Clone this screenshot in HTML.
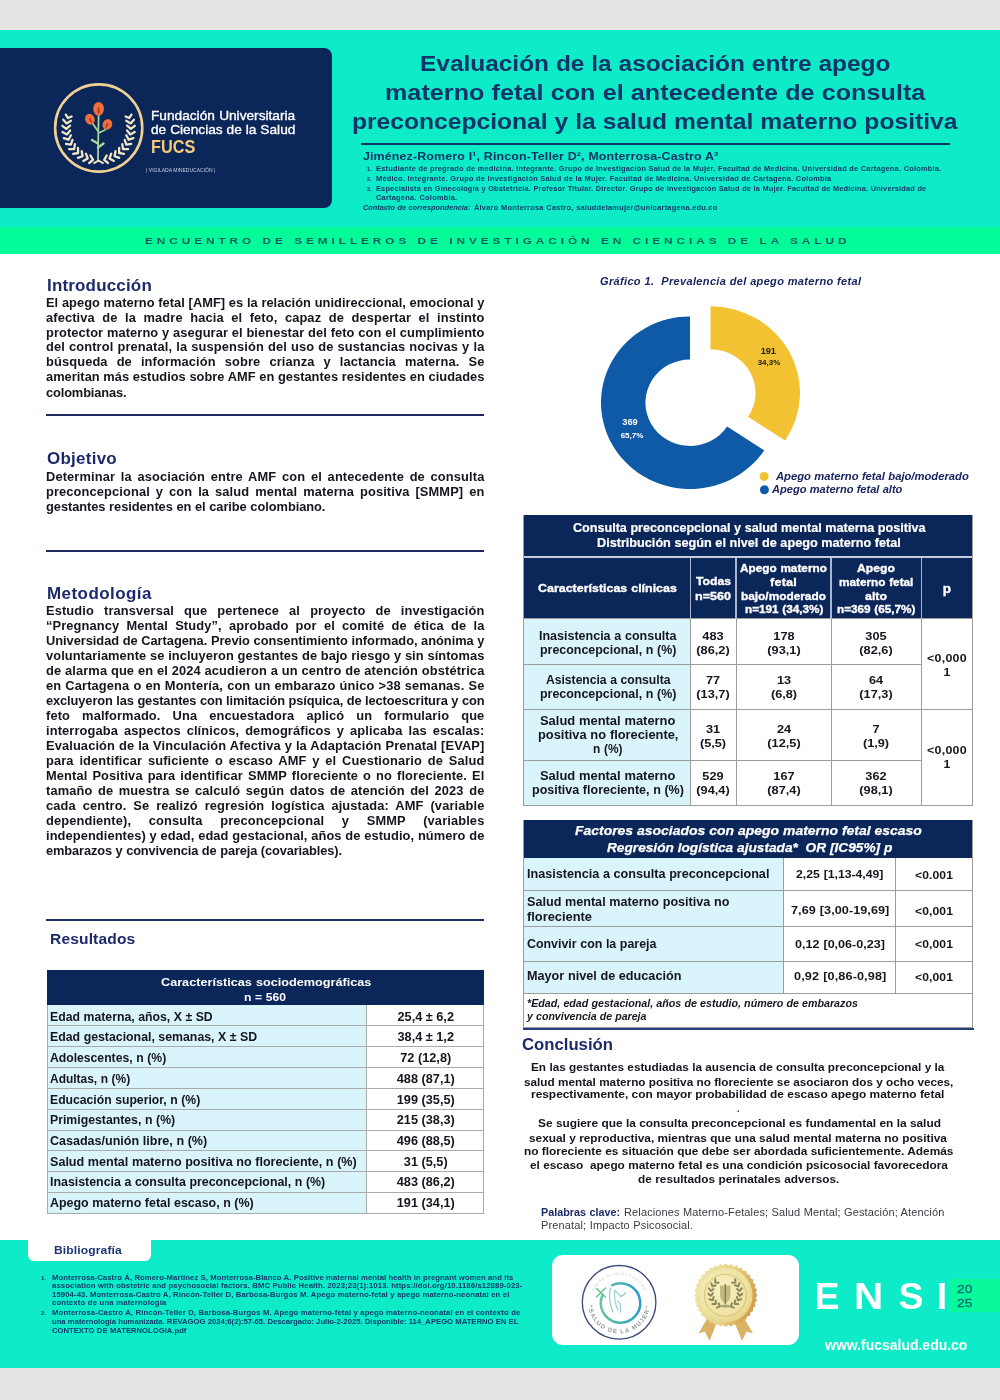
<!DOCTYPE html>
<html lang="es"><head><meta charset="utf-8"><title>Poster ENSI 2025</title>
<style>
html,body{margin:0;padding:0;}
body{width:1000px;height:1400px;position:relative;overflow:hidden;background:#e4e4e4;font-family:"Liberation Sans",sans-serif;}
.r{position:absolute;}
.t{position:absolute;white-space:nowrap;font-weight:bold;color:#15151f;}
.b{letter-spacing:0.45px;}
svg{position:absolute;overflow:visible;}
svg text{font-family:"Liberation Sans",sans-serif;}
</style></head>
<body>
<div class="r" style="left:0px;top:0px;width:1000px;height:1400px;background:#e4e4e4;"></div>
<div class="r" style="left:0px;top:30px;width:1000px;height:1338px;background:#ffffff;"></div>
<div class="r" style="left:0px;top:30px;width:1000px;height:197px;background:#0eebc9;"></div>
<div class="r" style="left:0px;top:227px;width:1000px;height:27px;background:#03fb99;"></div>
<div class="r" style="left:0px;top:1240px;width:1000px;height:128px;background:#0eebc9;"></div>
<div class="r" style="left:-10px;top:48px;width:342px;height:160px;background:#0b2658;border-radius:8px;"></div>
<svg style="left:0;top:0" width="340" height="220" viewBox="0 0 340 220">
<circle cx="98.7" cy="128" r="43.6" fill="none" stroke="#f1d193" stroke-width="2.6"/>
<g stroke="#a9d99a" stroke-width="1.7" fill="none" stroke-linecap="round">
<path d="M98.6 114 L98 160"/><path d="M97.5 130.500 L93 124"/><path d="M98.5 133 L105 130"/>
<path d="M97.8 143.500 L92 140" stroke-width="2.4"/><path d="M98 147.500 L103.500 143.500" stroke-width="2.4"/>
</g>
<g fill="#ef6d3e">
<ellipse cx="98.6" cy="108.8" rx="5.4" ry="6.9"/>
<ellipse cx="89.9" cy="119.2" rx="4.7" ry="5.5" transform="rotate(-20 89.9 119.2)"/>
<ellipse cx="107.4" cy="124.4" rx="4.7" ry="5.5" transform="rotate(25 107.4 124.4)"/>
</g>
<g fill="#8e2f1c" opacity="0.75"><ellipse cx="98.6" cy="110.5" rx="1" ry="3.6"/><ellipse cx="90.5" cy="120.3" rx="0.9" ry="2.8" transform="rotate(-20 90.5 120.3)"/><ellipse cx="106.8" cy="125.4" rx="0.9" ry="2.8" transform="rotate(25 106.8 125.4)"/></g>
<path d="M93.0 159.8L89.2 163.0M93.0 159.8L90.5 155.5M87.7 158.4L83.3 160.9M87.7 158.4L85.9 153.7M82.6 156.1L78.0 157.8M82.6 156.1L81.7 151.2M78.1 153.0L73.2 153.9M78.1 153.0L78.0 148.0M74.1 149.1L69.1 149.2M74.1 149.1L74.9 144.2M70.9 144.6L66.0 143.9M70.9 144.6L72.5 139.9M68.5 139.7L63.8 138.1M68.5 139.7L70.9 135.3M66.9 134.4L62.5 132.0M66.9 134.4L70.1 130.5M66.3 128.9L62.4 125.8M66.3 128.9L70.1 125.6M66.6 123.4L63.3 119.7M66.6 123.4L70.9 120.8M67.9 118.0L65.8 114.6M67.9 118.0L71.6 116.5M104.2 159.8L108.0 163.0M104.2 159.8L106.7 155.5M109.5 158.4L113.9 160.9M109.5 158.4L111.3 153.7M114.6 156.1L119.2 157.8M114.6 156.1L115.5 151.2M119.1 153.0L124.0 153.9M119.1 153.0L119.2 148.0M123.1 149.1L128.1 149.2M123.1 149.1L122.3 144.2M126.3 144.6L131.2 143.9M126.3 144.6L124.7 139.9M128.7 139.7L133.4 138.1M128.7 139.7L126.3 135.3M130.3 134.4L134.7 132.0M130.3 134.4L127.1 130.5M130.9 128.9L134.8 125.8M130.9 128.9L127.1 125.6M130.6 123.4L133.9 119.7M130.6 123.4L126.3 120.8M129.3 118.0L131.4 114.6M129.3 118.0L125.6 116.5" stroke="#f1e6c6" stroke-width="2.3" fill="none" stroke-linecap="round"/>
<path d="M98.5 160.500 l-4.500 2.600 M98.500 160.500 l4.500 2.600" stroke="#f1e6c6" stroke-width="1.8" stroke-linecap="round"/>
</svg>
<div class="t " style="left:150.6px;top:108.22px;font-size:13.5px;line-height:16.2px;transform:scaleX(1.0133);transform-origin:0 0;width:142.21px;text-align:justify;text-align-last:justify;letter-spacing:-0.005px;color:#ffffff;font-weight:normal;-webkit-text-stroke:0.35px #fff;">Fundación Universitaria</div>
<div class="t " style="left:150.6px;top:122.22px;font-size:13.5px;line-height:16.2px;transform:scaleX(1.0152);transform-origin:0 0;width:142.24px;text-align:justify;text-align-last:justify;letter-spacing:-0.005px;color:#ffffff;font-weight:normal;-webkit-text-stroke:0.35px #fff;">de Ciencias de la Salud</div>
<div class="t " style="left:151px;top:136.64px;font-size:17.5px;line-height:21.0px;transform:scaleX(0.9299);transform-origin:0 0;width:48.07px;text-align:justify;text-align-last:justify;letter-spacing:-0.005px;color:#f6c978;font-weight:bold;">FUCS</div>
<div class="t " style="left:146px;top:167.07px;font-size:5px;line-height:6.0px;transform:scaleX(1.004);transform-origin:0 0;width:69.12px;text-align:justify;text-align-last:justify;letter-spacing:-0.005px;color:#c9d2e6;font-weight:normal;">| VIGILADA MINEDUCACIÓN |</div>
<div class="t " style="left:419.5px;top:50.42px;font-size:22.8px;line-height:27.36px;transform:scaleX(1.072);transform-origin:0 0;width:438.81px;text-align:justify;text-align-last:justify;letter-spacing:-0.005px;color:#0e3468;font-weight:bold;">Evaluación de la asociación entre apego</div>
<div class="t " style="left:384.5px;top:79.22px;font-size:22.8px;line-height:27.36px;transform:scaleX(1.1);transform-origin:0 0;width:491.27px;text-align:justify;text-align-last:justify;letter-spacing:0.065px;color:#0e3468;font-weight:bold;">materno fetal con el antecedente de consulta</div>
<div class="t " style="left:352.0px;top:108.02px;font-size:22.8px;line-height:27.36px;transform:scaleX(1.0803);transform-origin:0 0;width:560.4px;text-align:justify;text-align-last:justify;letter-spacing:-0.005px;color:#0e3468;font-weight:bold;">preconcepcional y la salud mental materno positiva</div>
<div class="r" style="left:361px;top:143.4px;width:589px;height:1.6px;background:#0e3468;"></div>
<div class="t " style="left:363px;top:150.20px;font-size:11.3px;line-height:13.56px;transform:scaleX(1.1);transform-origin:0 0;width:323.09px;text-align:justify;text-align-last:justify;letter-spacing:0.116px;color:#0d3360;font-weight:bold;">Jiménez-Romero I¹, Rincon-Teller D², Monterrosa-Castro A³</div>
<div class="t " style="left:367px;top:165.79px;font-size:5.5px;line-height:6.6px;color:#0d3a66;">1.</div>
<div class="t " style="left:376px;top:164.66px;font-size:6.7px;line-height:8.04px;transform:scaleX(1.1);transform-origin:0 0;width:514.0px;text-align:justify;text-align-last:justify;letter-spacing:0.222px;color:#0d3a66;font-weight:bold;">Estudiante de pregrado de medicina. Integrante. Grupo de Investigación Salud de la Mujer. Facultad de Medicina. Universidad de Cartagena. Colombia.</div>
<div class="t " style="left:367px;top:175.79px;font-size:5.5px;line-height:6.6px;color:#0d3a66;">2.</div>
<div class="t " style="left:376px;top:174.66px;font-size:6.7px;line-height:8.04px;transform:scaleX(1.1);transform-origin:0 0;width:414.0px;text-align:justify;text-align-last:justify;letter-spacing:0.229px;color:#0d3a66;font-weight:bold;">Médico. Integrante. Grupo de Investigación Salud de la Mujer. Facultad de Medicina. Universidad de Cartagena. Colombia</div>
<div class="t " style="left:367px;top:185.89px;font-size:5.5px;line-height:6.6px;color:#0d3a66;">3.</div>
<div class="t " style="left:376px;top:184.76px;font-size:6.7px;line-height:8.04px;transform:scaleX(1.1);transform-origin:0 0;width:500.36px;text-align:justify;text-align-last:justify;letter-spacing:0.188px;color:#0d3a66;font-weight:bold;">Especialista en Ginecología y Obstetricia. Profesor Titular. Director. Grupo de Investigación Salud de la Mujer. Facultad de Medicina. Universidad de</div>
<div class="t " style="left:376px;top:193.66px;font-size:6.7px;line-height:8.04px;transform:scaleX(1.1);transform-origin:0 0;width:74.0px;text-align:justify;text-align-last:justify;letter-spacing:0.233px;color:#0d3a66;font-weight:bold;">Cartagena. Colombia.</div>
<div class="t " style="left:363px;top:203.66px;font-size:6.7px;line-height:8.04px;transform:scaleX(1.1);transform-origin:0 0;width:97.64px;text-align:justify;text-align-last:justify;letter-spacing:0.012px;color:#0d3a66;font-weight:bold;font-style:italic;">Contacto de correspondencia:</div>
<div class="t " style="left:474px;top:203.66px;font-size:6.7px;line-height:8.04px;transform:scaleX(1.1);transform-origin:0 0;width:221.27px;text-align:justify;text-align-last:justify;letter-spacing:0.229px;color:#0d3a66;font-weight:bold;">Álvaro Monterrosa Castro, saluddelamujer@unicartagena.edu.co</div>
<div class="t " style="left:145px;top:236.29px;font-size:9.2px;line-height:11.04px;transform:scaleX(1.28);transform-origin:0 0;width:551.09px;text-align:justify;text-align-last:justify;letter-spacing:3.095px;color:#0a5f5c;font-weight:bold;">ENCUENTRO DE SEMILLEROS DE INVESTIGACIÓN EN CIENCIAS DE LA SALUD</div>
<div class="t " style="left:46.6px;top:275.86px;font-size:16px;line-height:19.2px;transform:scaleX(1.06);transform-origin:0 0;width:99.43px;text-align:justify;text-align-last:justify;letter-spacing:0.176px;color:#1c2a6c;font-weight:bold;">Introducción</div>
<div class="t " style="left:46.1px;top:296.14px;font-size:12px;line-height:14.4px;transform:scaleX(1.07);transform-origin:0 0;width:409.72px;text-align:justify;text-align-last:justify;letter-spacing:0.041px;color:#15151f;font-weight:bold;">El apego materno fetal [AMF] es la relación unidireccional, emocional y</div>
<div class="t " style="left:46.1px;top:311.04px;font-size:12px;line-height:14.4px;transform:scaleX(1.07);transform-origin:0 0;width:409.72px;text-align:justify;text-align-last:justify;letter-spacing:0.115px;color:#15151f;font-weight:bold;">afectiva de la madre hacia el feto, capaz de despertar el instinto</div>
<div class="t " style="left:46.1px;top:325.74px;font-size:12px;line-height:14.4px;transform:scaleX(1.07);transform-origin:0 0;width:409.72px;text-align:justify;text-align-last:justify;letter-spacing:0.089px;color:#15151f;font-weight:bold;">protector materno y asegurar el bienestar del feto con el cumplimiento</div>
<div class="t " style="left:46.1px;top:340.44px;font-size:12px;line-height:14.4px;transform:scaleX(1.07);transform-origin:0 0;width:409.72px;text-align:justify;text-align-last:justify;letter-spacing:0.115px;color:#15151f;font-weight:bold;">del control prenatal, la suspensión del uso de sustancias nocivas y la</div>
<div class="t " style="left:46.1px;top:355.24px;font-size:12px;line-height:14.4px;transform:scaleX(1.07);transform-origin:0 0;width:409.72px;text-align:justify;text-align-last:justify;letter-spacing:0.115px;color:#15151f;font-weight:bold;">búsqueda de información sobre crianza y lactancia materna. Se</div>
<div class="t " style="left:46.1px;top:369.94px;font-size:12px;line-height:14.4px;transform:scaleX(1.07);transform-origin:0 0;width:409.72px;text-align:justify;text-align-last:justify;letter-spacing:0.02px;color:#15151f;font-weight:bold;">ameritan más estudios sobre AMF en gestantes residentes en ciudades</div>
<div class="t " style="left:46.1px;top:386.24px;font-size:12px;line-height:14.4px;transform:scaleX(1.07);transform-origin:0 0;width:75.61px;text-align:justify;text-align-last:justify;letter-spacing:-0.126px;color:#15151f;font-weight:bold;">colombianas.</div>
<div class="r" style="left:46px;top:414px;width:438px;height:2px;background:#1d2a5e;"></div>
<div class="t " style="left:46.6px;top:448.86px;font-size:16px;line-height:19.2px;transform:scaleX(1.06);transform-origin:0 0;width:66.42px;text-align:justify;text-align-last:justify;letter-spacing:0.249px;color:#1c2a6c;font-weight:bold;">Objetivo</div>
<div class="t " style="left:46.1px;top:469.64px;font-size:12px;line-height:14.4px;transform:scaleX(1.07);transform-origin:0 0;width:409.72px;text-align:justify;text-align-last:justify;letter-spacing:0.115px;color:#15151f;font-weight:bold;">Determinar la asociación entre AMF con el antecedente de consulta</div>
<div class="t " style="left:46.1px;top:484.64px;font-size:12px;line-height:14.4px;transform:scaleX(1.07);transform-origin:0 0;width:409.72px;text-align:justify;text-align-last:justify;letter-spacing:0.115px;color:#15151f;font-weight:bold;">preconcepcional y con la salud mental materna positiva [SMMP] en</div>
<div class="t " style="left:46.1px;top:499.64px;font-size:12px;line-height:14.4px;transform:scaleX(1.07);transform-origin:0 0;width:261.12px;text-align:justify;text-align-last:justify;letter-spacing:-0.05px;color:#15151f;font-weight:bold;">gestantes residentes en el caribe colombiano.</div>
<div class="r" style="left:46px;top:550px;width:438px;height:2px;background:#1d2a5e;"></div>
<div class="t " style="left:46.6px;top:583.86px;font-size:16px;line-height:19.2px;transform:scaleX(1.06);transform-origin:0 0;width:99.43px;text-align:justify;text-align-last:justify;letter-spacing:0.435px;color:#1c2a6c;font-weight:bold;">Metodología</div>
<div class="t " style="left:46.1px;top:604.14px;font-size:12px;line-height:14.4px;transform:scaleX(1.07);transform-origin:0 0;width:409.72px;text-align:justify;text-align-last:justify;letter-spacing:0.115px;color:#15151f;font-weight:bold;">Estudio transversal que pertenece al proyecto de investigación</div>
<div class="t " style="left:46.1px;top:619.14px;font-size:12px;line-height:14.4px;transform:scaleX(1.07);transform-origin:0 0;width:409.72px;text-align:justify;text-align-last:justify;letter-spacing:0.115px;color:#15151f;font-weight:bold;">“Pregnancy Mental Study”, aprobado por el comité de ética de la</div>
<div class="t " style="left:46.1px;top:634.14px;font-size:12px;line-height:14.4px;transform:scaleX(1.07);transform-origin:0 0;width:409.72px;text-align:justify;text-align-last:justify;letter-spacing:-0.036px;color:#15151f;font-weight:bold;">Universidad de Cartagena. Previo consentimiento informado, anónima y</div>
<div class="t " style="left:46.1px;top:649.14px;font-size:12px;line-height:14.4px;transform:scaleX(1.07);transform-origin:0 0;width:409.72px;text-align:justify;text-align-last:justify;letter-spacing:0.071px;color:#15151f;font-weight:bold;">voluntariamente se incluyeron gestantes de bajo riesgo y sin síntomas</div>
<div class="t " style="left:46.1px;top:664.14px;font-size:12px;line-height:14.4px;transform:scaleX(1.07);transform-origin:0 0;width:409.72px;text-align:justify;text-align-last:justify;letter-spacing:0.115px;color:#15151f;font-weight:bold;">de alarma que en el 2024 acudieron a un centro de atención obstétrica</div>
<div class="t " style="left:46.1px;top:679.14px;font-size:12px;line-height:14.4px;transform:scaleX(1.07);transform-origin:0 0;width:409.72px;text-align:justify;text-align-last:justify;letter-spacing:0.115px;color:#15151f;font-weight:bold;">en Cartagena o en Montería, con un embarazo único &gt;38 semanas. Se</div>
<div class="t " style="left:46.1px;top:694.14px;font-size:12px;line-height:14.4px;transform:scaleX(1.07);transform-origin:0 0;width:409.72px;text-align:justify;text-align-last:justify;letter-spacing:-0.098px;color:#15151f;font-weight:bold;">excluyeron las gestantes con limitación psíquica, de lectoescritura y con</div>
<div class="t " style="left:46.1px;top:709.14px;font-size:12px;line-height:14.4px;transform:scaleX(1.07);transform-origin:0 0;width:409.72px;text-align:justify;text-align-last:justify;letter-spacing:0.115px;color:#15151f;font-weight:bold;">feto malformado. Una encuestadora aplicó un formulario que</div>
<div class="t " style="left:46.1px;top:724.14px;font-size:12px;line-height:14.4px;transform:scaleX(1.07);transform-origin:0 0;width:409.72px;text-align:justify;text-align-last:justify;letter-spacing:0.115px;color:#15151f;font-weight:bold;">interrogaba aspectos clínicos, demográficos y aplicaba las escalas:</div>
<div class="t " style="left:46.1px;top:739.14px;font-size:12px;line-height:14.4px;transform:scaleX(1.07);transform-origin:0 0;width:409.72px;text-align:justify;text-align-last:justify;letter-spacing:0.115px;color:#15151f;font-weight:bold;">Evaluación de la Vinculación Afectiva y la Adaptación Prenatal [EVAP]</div>
<div class="t " style="left:46.1px;top:754.14px;font-size:12px;line-height:14.4px;transform:scaleX(1.07);transform-origin:0 0;width:409.72px;text-align:justify;text-align-last:justify;letter-spacing:0.115px;color:#15151f;font-weight:bold;">para identificar suficiente o escaso AMF y el Cuestionario de Salud</div>
<div class="t " style="left:46.1px;top:769.14px;font-size:12px;line-height:14.4px;transform:scaleX(1.07);transform-origin:0 0;width:409.72px;text-align:justify;text-align-last:justify;letter-spacing:0.115px;color:#15151f;font-weight:bold;">Mental Positiva para identificar SMMP floreciente o no floreciente. El</div>
<div class="t " style="left:46.1px;top:784.14px;font-size:12px;line-height:14.4px;transform:scaleX(1.07);transform-origin:0 0;width:409.72px;text-align:justify;text-align-last:justify;letter-spacing:0.115px;color:#15151f;font-weight:bold;">tamaño de muestra se calculó según datos de atención del 2023 de</div>
<div class="t " style="left:46.1px;top:799.14px;font-size:12px;line-height:14.4px;transform:scaleX(1.07);transform-origin:0 0;width:409.72px;text-align:justify;text-align-last:justify;letter-spacing:0.115px;color:#15151f;font-weight:bold;">cada centro. Se realizó regresión logística ajustada: AMF (variable</div>
<div class="t " style="left:46.1px;top:814.14px;font-size:12px;line-height:14.4px;transform:scaleX(1.07);transform-origin:0 0;width:409.72px;text-align:justify;text-align-last:justify;letter-spacing:0.115px;color:#15151f;font-weight:bold;">dependiente), consulta preconcepcional y SMMP (variables</div>
<div class="t " style="left:46.1px;top:829.14px;font-size:12px;line-height:14.4px;transform:scaleX(1.07);transform-origin:0 0;width:409.72px;text-align:justify;text-align-last:justify;letter-spacing:0.082px;color:#15151f;font-weight:bold;">independientes) y edad, edad gestacional, años de estudio, número de</div>
<div class="t " style="left:46.1px;top:844.14px;font-size:12px;line-height:14.4px;transform:scaleX(1.07);transform-origin:0 0;width:276.54px;text-align:justify;text-align-last:justify;letter-spacing:-0.115px;color:#15151f;font-weight:bold;">embarazos y convivencia de pareja (covariables).</div>
<div class="r" style="left:46px;top:918.7px;width:438px;height:2.1px;background:#1d2a5e;"></div>
<div class="t " style="left:49.8px;top:931.09px;font-size:14.7px;line-height:17.64px;transform:scaleX(1.06);transform-origin:0 0;width:81.04px;text-align:justify;text-align-last:justify;letter-spacing:0.137px;color:#1c2a6c;font-weight:bold;">Resultados</div>
<div class="r" style="left:46.8px;top:970px;width:437.2px;height:35px;background:#0b2658;"></div>
<div class="t " style="left:160.5px;top:974.63px;font-size:11.8px;line-height:14.16px;transform:scaleX(1.0744);transform-origin:0 0;width:195.83px;text-align:justify;text-align-last:justify;letter-spacing:-0.005px;color:#fff;font-weight:bold;">Características sociodemográficas</div>
<div class="t " style="left:243.8px;top:989.63px;font-size:11.8px;line-height:14.16px;transform:scaleX(1.0287);transform-origin:0 0;width:40.73px;text-align:justify;text-align-last:justify;letter-spacing:-0.005px;color:#fff;font-weight:bold;">n = 560</div>
<div class="r" style="left:46.8px;top:1004.8px;width:319.7px;height:208.70000000000002px;background:#d9f4fb;"></div>
<div class="t " style="left:49.7px;top:1009.64px;font-size:12px;line-height:14.4px;transform:scaleX(1.0231);transform-origin:0 0;width:159.03px;text-align:justify;text-align-last:justify;letter-spacing:-0.005px;color:#15151f;font-weight:bold;">Edad materna, años, X ± SD</div>
<div class="t " style="left:366.5px;top:1009.64px;font-size:12px;line-height:14.4px;transform:scaleX(1.06);transform-origin:0 0;width:110.85px;text-align:center;color:#15151f;">25,4 ± 6,2</div>
<div class="r" style="left:46.8px;top:1025.1699999999998px;width:437.2px;height:1px;background:#a9a9a9;"></div>
<div class="t " style="left:49.7px;top:1030.36px;font-size:12px;line-height:14.4px;transform:scaleX(1.0272);transform-origin:0 0;width:201.71px;text-align:justify;text-align-last:justify;letter-spacing:-0.005px;color:#15151f;font-weight:bold;">Edad gestacional, semanas, X ± SD</div>
<div class="t " style="left:366.5px;top:1030.36px;font-size:12px;line-height:14.4px;transform:scaleX(1.06);transform-origin:0 0;width:110.85px;text-align:center;color:#15151f;">38,4 ± 1,2</div>
<div class="r" style="left:46.8px;top:1046.0399999999997px;width:437.2px;height:1px;background:#a9a9a9;"></div>
<div class="t " style="left:49.7px;top:1051.08px;font-size:12px;line-height:14.4px;transform:scaleX(1.0156);transform-origin:0 0;width:114.42px;text-align:justify;text-align-last:justify;letter-spacing:-0.005px;color:#15151f;font-weight:bold;">Adolescentes, n (%)</div>
<div class="t " style="left:366.5px;top:1051.08px;font-size:12px;line-height:14.4px;transform:scaleX(1.06);transform-origin:0 0;width:110.85px;text-align:center;color:#15151f;">72 (12,8)</div>
<div class="r" style="left:46.8px;top:1066.9099999999999px;width:437.2px;height:1px;background:#a9a9a9;"></div>
<div class="t " style="left:49.7px;top:1071.80px;font-size:12px;line-height:14.4px;transform:scaleX(0.9975);transform-origin:0 0;width:80.4px;text-align:justify;text-align-last:justify;letter-spacing:-0.005px;color:#15151f;font-weight:bold;">Adultas, n (%)</div>
<div class="t " style="left:366.5px;top:1071.80px;font-size:12px;line-height:14.4px;transform:scaleX(1.06);transform-origin:0 0;width:110.85px;text-align:center;color:#15151f;">488 (87,1)</div>
<div class="r" style="left:46.8px;top:1087.7799999999997px;width:437.2px;height:1px;background:#a9a9a9;"></div>
<div class="t " style="left:49.7px;top:1092.52px;font-size:12px;line-height:14.4px;transform:scaleX(1.0166);transform-origin:0 0;width:147.75px;text-align:justify;text-align-last:justify;letter-spacing:-0.005px;color:#15151f;font-weight:bold;">Educación superior, n (%)</div>
<div class="t " style="left:366.5px;top:1092.52px;font-size:12px;line-height:14.4px;transform:scaleX(1.06);transform-origin:0 0;width:110.85px;text-align:center;color:#15151f;">199 (35,5)</div>
<div class="r" style="left:46.8px;top:1108.6499999999999px;width:437.2px;height:1px;background:#a9a9a9;"></div>
<div class="t " style="left:49.7px;top:1113.24px;font-size:12px;line-height:14.4px;transform:scaleX(1.0227);transform-origin:0 0;width:122.42px;text-align:justify;text-align-last:justify;letter-spacing:-0.005px;color:#15151f;font-weight:bold;">Primigestantes, n (%)</div>
<div class="t " style="left:366.5px;top:1113.24px;font-size:12px;line-height:14.4px;transform:scaleX(1.06);transform-origin:0 0;width:110.85px;text-align:center;color:#15151f;">215 (38,3)</div>
<div class="r" style="left:46.8px;top:1129.5199999999998px;width:437.2px;height:1px;background:#a9a9a9;"></div>
<div class="t " style="left:49.7px;top:1133.96px;font-size:12px;line-height:14.4px;transform:scaleX(1.0452);transform-origin:0 0;width:150.4px;text-align:justify;text-align-last:justify;letter-spacing:-0.005px;color:#15151f;font-weight:bold;">Casadas/unión libre, n (%)</div>
<div class="t " style="left:366.5px;top:1133.96px;font-size:12px;line-height:14.4px;transform:scaleX(1.06);transform-origin:0 0;width:110.85px;text-align:center;color:#15151f;">496 (88,5)</div>
<div class="r" style="left:46.8px;top:1150.3899999999999px;width:437.2px;height:1px;background:#a9a9a9;"></div>
<div class="t " style="left:49.7px;top:1154.68px;font-size:12px;line-height:14.4px;transform:scaleX(1.0488);transform-origin:0 0;width:292.43px;text-align:justify;text-align-last:justify;letter-spacing:-0.005px;color:#15151f;font-weight:bold;">Salud mental materno positiva no floreciente, n (%)</div>
<div class="t " style="left:366.5px;top:1154.68px;font-size:12px;line-height:14.4px;transform:scaleX(1.06);transform-origin:0 0;width:110.85px;text-align:center;color:#15151f;">31 (5,5)</div>
<div class="r" style="left:46.8px;top:1171.2599999999998px;width:437.2px;height:1px;background:#a9a9a9;"></div>
<div class="t " style="left:49.7px;top:1175.40px;font-size:12px;line-height:14.4px;transform:scaleX(1.0328);transform-origin:0 0;width:266.46px;text-align:justify;text-align-last:justify;letter-spacing:-0.005px;color:#15151f;font-weight:bold;">Inasistencia a consulta preconcepcional, n (%)</div>
<div class="t " style="left:366.5px;top:1175.40px;font-size:12px;line-height:14.4px;transform:scaleX(1.06);transform-origin:0 0;width:110.85px;text-align:center;color:#15151f;">483 (86,2)</div>
<div class="r" style="left:46.8px;top:1192.1299999999999px;width:437.2px;height:1px;background:#a9a9a9;"></div>
<div class="t " style="left:49.7px;top:1196.12px;font-size:12px;line-height:14.4px;transform:scaleX(1.037);transform-origin:0 0;width:196.43px;text-align:justify;text-align-last:justify;letter-spacing:-0.005px;color:#15151f;font-weight:bold;">Apego materno fetal escaso, n (%)</div>
<div class="t " style="left:366.5px;top:1196.12px;font-size:12px;line-height:14.4px;transform:scaleX(1.06);transform-origin:0 0;width:110.85px;text-align:center;color:#15151f;">191 (34,1)</div>
<div class="r" style="left:46.8px;top:1212.9999999999998px;width:437.2px;height:1px;background:#a9a9a9;"></div>
<div class="r" style="left:46.8px;top:1004.8px;width:1px;height:208.70000000000002px;background:#a9a9a9;"></div>
<div class="r" style="left:366.0px;top:1004.8px;width:1px;height:208.70000000000002px;background:#a9a9a9;"></div>
<div class="r" style="left:483px;top:1004.8px;width:1px;height:208.70000000000002px;background:#a9a9a9;"></div>
<div class="t " style="left:600px;top:275.54px;font-size:10px;line-height:12.0px;transform:scaleX(1.1);transform-origin:0 0;width:237.64px;text-align:justify;text-align-last:justify;letter-spacing:0.313px;color:#1a2560;font-weight:bold;font-style:italic;">Gráfico 1.  Prevalencia del apego materno fetal</div>
<svg style="left:0;top:0" width="1000" height="520" viewBox="0 0 1000 520"><g transform="translate(690 402.7) scale(1.0315 1)"><path d="M71.98 47.61 A86.3 86.3 0 1 1 -0.00 -86.30 L-0.00 -43.20 A43.2 43.2 0 1 0 36.03 23.83 Z" fill="#0f5aa6"/></g><g transform="translate(710.5 392.8) scale(1.035 1)"><path d="M0.00 -86.50 A86.5 86.5 0 0 1 72.15 47.72 L36.28 24.00 A43.5 43.5 0 0 0 0.00 -43.50 Z" fill="#f2c232"/></g><circle cx="764.1" cy="476.4" r="4.5" fill="#f2c232"/><circle cx="764.4" cy="489.8" r="4.5" fill="#0f5aa6"/><text x="768.3" y="353.6" font-size="9.2" font-weight="bold" text-anchor="middle" fill="#1c1c1c">191</text><text x="769" y="365.4" font-size="8" font-weight="bold" text-anchor="middle" fill="#1c1c1c">34,3%</text><text x="630" y="425.3" font-size="9.2" font-weight="bold" text-anchor="middle" fill="#fff">369</text><text x="632" y="438" font-size="8" font-weight="bold" text-anchor="middle" fill="#fff">65,7%</text></svg>
<div class="t " style="left:776px;top:470.65px;font-size:10.3px;line-height:12.36px;transform:scaleX(1.0915);transform-origin:0 0;width:176.64px;text-align:justify;text-align-last:justify;letter-spacing:-0.005px;color:#1a2560;font-weight:bold;font-style:italic;">Apego materno fetal bajo/moderado</div>
<div class="t " style="left:772.3px;top:484.05px;font-size:10.3px;line-height:12.36px;transform:scaleX(1.0765);transform-origin:0 0;width:121.13px;text-align:justify;text-align-last:justify;letter-spacing:-0.005px;color:#1a2560;font-weight:bold;font-style:italic;">Apego materno fetal alto</div>
<div class="r" style="left:523.2px;top:514.5px;width:450.19999999999993px;height:41.5px;background:#0b2658;"></div>
<div class="t " style="left:572.5px;top:521.04px;font-size:12px;line-height:14.4px;transform:scaleX(1.0494);transform-origin:0 0;width:335.81px;text-align:justify;text-align-last:justify;letter-spacing:-0.005px;color:#fff;font-weight:bold;-webkit-text-stroke:0.2px #fff;">Consulta preconcepcional y salud mental materna positiva</div>
<div class="t " style="left:596.5px;top:536.04px;font-size:12px;line-height:14.4px;transform:scaleX(1.056);transform-origin:0 0;width:287.78px;text-align:justify;text-align-last:justify;letter-spacing:-0.005px;color:#fff;font-weight:bold;-webkit-text-stroke:0.2px #fff;">Distribución según el nivel de apego materno fetal</div>
<div class="r" style="left:523.2px;top:557.5px;width:450.19999999999993px;height:61px;background:#0b2658;"></div>
<div class="t " style="left:537.75px;top:582.12px;font-size:11.5px;line-height:13.8px;transform:scaleX(1.0832);transform-origin:0 0;width:128.23px;text-align:justify;text-align-last:justify;letter-spacing:-0.005px;color:#fff;font-weight:bold;-webkit-text-stroke:0.35px #fff;">Características clínicas</div>
<div class="t " style="left:695.5px;top:574.62px;font-size:11.5px;line-height:13.8px;transform:scaleX(1.0602);transform-origin:0 0;width:33.39px;text-align:justify;text-align-last:justify;letter-spacing:-0.005px;color:#fff;font-weight:bold;-webkit-text-stroke:0.35px #fff;">Todas</div>
<div class="t " style="left:695.0px;top:589.62px;font-size:11.5px;line-height:13.8px;transform:scaleX(1.0933);transform-origin:0 0;width:33.29px;text-align:justify;text-align-last:justify;letter-spacing:-0.005px;color:#fff;font-weight:bold;-webkit-text-stroke:0.35px #fff;">n=560</div>
<div class="t " style="left:740.25px;top:562.12px;font-size:11.5px;line-height:13.8px;transform:scaleX(1.0256);transform-origin:0 0;width:84.73px;text-align:justify;text-align-last:justify;letter-spacing:-0.005px;color:#fff;font-weight:bold;-webkit-text-stroke:0.35px #fff;">Apego materno</div>
<div class="t " style="left:770.0px;top:575.62px;font-size:11.5px;line-height:13.8px;transform:scaleX(1.1);transform-origin:0 0;width:24.91px;text-align:justify;text-align-last:justify;letter-spacing:0.175px;color:#fff;font-weight:bold;-webkit-text-stroke:0.35px #fff;">fetal</div>
<div class="t " style="left:741.0px;top:589.62px;font-size:11.5px;line-height:13.8px;transform:scaleX(1.0312);transform-origin:0 0;width:82.82px;text-align:justify;text-align-last:justify;letter-spacing:-0.005px;color:#fff;font-weight:bold;-webkit-text-stroke:0.35px #fff;">bajo/moderado</div>
<div class="t " style="left:744.5px;top:603.12px;font-size:11.5px;line-height:13.8px;transform:scaleX(1.0211);transform-origin:0 0;width:76.78px;text-align:justify;text-align-last:justify;letter-spacing:-0.005px;color:#fff;font-weight:bold;-webkit-text-stroke:0.35px #fff;">n=191 (34,3%)</div>
<div class="t " style="left:857.0px;top:562.12px;font-size:11.5px;line-height:13.8px;transform:scaleX(1.0622);transform-origin:0 0;width:36.15px;text-align:justify;text-align-last:justify;letter-spacing:-0.005px;color:#fff;font-weight:bold;-webkit-text-stroke:0.35px #fff;">Apego</div>
<div class="t " style="left:839.0px;top:575.62px;font-size:11.5px;line-height:13.8px;transform:scaleX(1.0247);transform-origin:0 0;width:72.61px;text-align:justify;text-align-last:justify;letter-spacing:-0.005px;color:#fff;font-weight:bold;-webkit-text-stroke:0.35px #fff;">materno fetal</div>
<div class="t " style="left:865.0px;top:589.62px;font-size:11.5px;line-height:13.8px;transform:scaleX(1.076);transform-origin:0 0;width:20.82px;text-align:justify;text-align-last:justify;letter-spacing:-0.005px;color:#fff;font-weight:bold;-webkit-text-stroke:0.35px #fff;">alto</div>
<div class="t " style="left:837.0px;top:603.12px;font-size:11.5px;line-height:13.8px;transform:scaleX(1.0211);transform-origin:0 0;width:76.78px;text-align:justify;text-align-last:justify;letter-spacing:-0.005px;color:#fff;font-weight:bold;-webkit-text-stroke:0.35px #fff;">n=369 (65,7%)</div>
<div class="t " style="left:847px;top:581.97px;font-size:12.5px;line-height:15.0px;transform:scaleX(1.08);transform-origin:0 0;width:185.19px;text-align:center;color:#fff;-webkit-text-stroke:0.35px #fff;">p</div>
<div class="r" style="left:523.2px;top:618.8px;width:167.19999999999993px;height:186.60000000000002px;background:#d9f4fb;"></div>
<div class="t " style="left:539.0px;top:628.64px;font-size:12px;line-height:14.4px;transform:scaleX(1.0427);transform-origin:0 0;width:131.77px;text-align:justify;text-align-last:justify;letter-spacing:-0.005px;color:#15151f;font-weight:bold;">Inasistencia a consulta</div>
<div class="t " style="left:539.5px;top:642.94px;font-size:12px;line-height:14.4px;transform:scaleX(1.0353);transform-origin:0 0;width:131.75px;text-align:justify;text-align-last:justify;letter-spacing:-0.005px;color:#15151f;font-weight:bold;">preconcepcional, n (%)</div>
<div class="t " style="left:613px;top:628.83px;font-size:11.8px;line-height:14.16px;transform:scaleX(1.08);transform-origin:0 0;width:185.19px;text-align:center;color:#15151f;">483</div>
<div class="t " style="left:613px;top:643.13px;font-size:11.8px;line-height:14.16px;transform:scaleX(1.08);transform-origin:0 0;width:185.19px;text-align:center;color:#15151f;">(86,2)</div>
<div class="t " style="left:683.5px;top:628.83px;font-size:11.8px;line-height:14.16px;transform:scaleX(1.08);transform-origin:0 0;width:185.19px;text-align:center;color:#15151f;">178</div>
<div class="t " style="left:683.5px;top:643.13px;font-size:11.8px;line-height:14.16px;transform:scaleX(1.08);transform-origin:0 0;width:185.19px;text-align:center;color:#15151f;">(93,1)</div>
<div class="t " style="left:776px;top:628.83px;font-size:11.8px;line-height:14.16px;transform:scaleX(1.08);transform-origin:0 0;width:185.19px;text-align:center;color:#15151f;">305</div>
<div class="t " style="left:776px;top:643.13px;font-size:11.8px;line-height:14.16px;transform:scaleX(1.08);transform-origin:0 0;width:185.19px;text-align:center;color:#15151f;">(82,6)</div>
<div class="t " style="left:545.5px;top:672.64px;font-size:12px;line-height:14.4px;transform:scaleX(1.0105);transform-origin:0 0;width:123.11px;text-align:justify;text-align-last:justify;letter-spacing:-0.005px;color:#15151f;font-weight:bold;">Asistencia a consulta</div>
<div class="t " style="left:539.5px;top:686.94px;font-size:12px;line-height:14.4px;transform:scaleX(1.0353);transform-origin:0 0;width:131.75px;text-align:justify;text-align-last:justify;letter-spacing:-0.005px;color:#15151f;font-weight:bold;">preconcepcional, n (%)</div>
<div class="t " style="left:613px;top:672.83px;font-size:11.8px;line-height:14.16px;transform:scaleX(1.08);transform-origin:0 0;width:185.19px;text-align:center;color:#15151f;">77</div>
<div class="t " style="left:613px;top:687.13px;font-size:11.8px;line-height:14.16px;transform:scaleX(1.08);transform-origin:0 0;width:185.19px;text-align:center;color:#15151f;">(13,7)</div>
<div class="t " style="left:683.5px;top:672.83px;font-size:11.8px;line-height:14.16px;transform:scaleX(1.08);transform-origin:0 0;width:185.19px;text-align:center;color:#15151f;">13</div>
<div class="t " style="left:683.5px;top:687.13px;font-size:11.8px;line-height:14.16px;transform:scaleX(1.08);transform-origin:0 0;width:185.19px;text-align:center;color:#15151f;">(6,8)</div>
<div class="t " style="left:776px;top:672.83px;font-size:11.8px;line-height:14.16px;transform:scaleX(1.08);transform-origin:0 0;width:185.19px;text-align:center;color:#15151f;">64</div>
<div class="t " style="left:776px;top:687.13px;font-size:11.8px;line-height:14.16px;transform:scaleX(1.08);transform-origin:0 0;width:185.19px;text-align:center;color:#15151f;">(17,3)</div>
<div class="t " style="left:540.0px;top:713.94px;font-size:12px;line-height:14.4px;transform:scaleX(1.0769);transform-origin:0 0;width:125.73px;text-align:justify;text-align-last:justify;letter-spacing:-0.005px;color:#15151f;font-weight:bold;">Salud mental materno</div>
<div class="t " style="left:537.5px;top:728.14px;font-size:12px;line-height:14.4px;transform:scaleX(1.0712);transform-origin:0 0;width:131.07px;text-align:justify;text-align-last:justify;letter-spacing:-0.005px;color:#15151f;font-weight:bold;">positiva no floreciente,</div>
<div class="t " style="left:593.0px;top:742.34px;font-size:12px;line-height:14.4px;transform:scaleX(0.9889);transform-origin:0 0;width:29.73px;text-align:justify;text-align-last:justify;letter-spacing:-0.005px;color:#15151f;font-weight:bold;">n (%)</div>
<div class="t " style="left:613px;top:721.83px;font-size:11.8px;line-height:14.16px;transform:scaleX(1.08);transform-origin:0 0;width:185.19px;text-align:center;color:#15151f;">31</div>
<div class="t " style="left:613px;top:736.13px;font-size:11.8px;line-height:14.16px;transform:scaleX(1.08);transform-origin:0 0;width:185.19px;text-align:center;color:#15151f;">(5,5)</div>
<div class="t " style="left:683.5px;top:721.83px;font-size:11.8px;line-height:14.16px;transform:scaleX(1.08);transform-origin:0 0;width:185.19px;text-align:center;color:#15151f;">24</div>
<div class="t " style="left:683.5px;top:736.13px;font-size:11.8px;line-height:14.16px;transform:scaleX(1.08);transform-origin:0 0;width:185.19px;text-align:center;color:#15151f;">(12,5)</div>
<div class="t " style="left:776px;top:721.83px;font-size:11.8px;line-height:14.16px;transform:scaleX(1.08);transform-origin:0 0;width:185.19px;text-align:center;color:#15151f;">7</div>
<div class="t " style="left:776px;top:736.13px;font-size:11.8px;line-height:14.16px;transform:scaleX(1.08);transform-origin:0 0;width:185.19px;text-align:center;color:#15151f;">(1,9)</div>
<div class="t " style="left:540.0px;top:768.64px;font-size:12px;line-height:14.4px;transform:scaleX(1.0769);transform-origin:0 0;width:125.73px;text-align:justify;text-align-last:justify;letter-spacing:-0.005px;color:#15151f;font-weight:bold;">Salud mental materno</div>
<div class="t " style="left:531.75px;top:782.94px;font-size:12px;line-height:14.4px;transform:scaleX(1.0422);transform-origin:0 0;width:145.75px;text-align:justify;text-align-last:justify;letter-spacing:-0.005px;color:#15151f;font-weight:bold;">positiva floreciente, n (%)</div>
<div class="t " style="left:613px;top:768.83px;font-size:11.8px;line-height:14.16px;transform:scaleX(1.08);transform-origin:0 0;width:185.19px;text-align:center;color:#15151f;">529</div>
<div class="t " style="left:613px;top:783.13px;font-size:11.8px;line-height:14.16px;transform:scaleX(1.08);transform-origin:0 0;width:185.19px;text-align:center;color:#15151f;">(94,4)</div>
<div class="t " style="left:683.5px;top:768.83px;font-size:11.8px;line-height:14.16px;transform:scaleX(1.08);transform-origin:0 0;width:185.19px;text-align:center;color:#15151f;">167</div>
<div class="t " style="left:683.5px;top:783.13px;font-size:11.8px;line-height:14.16px;transform:scaleX(1.08);transform-origin:0 0;width:185.19px;text-align:center;color:#15151f;">(87,4)</div>
<div class="t " style="left:776px;top:768.83px;font-size:11.8px;line-height:14.16px;transform:scaleX(1.08);transform-origin:0 0;width:185.19px;text-align:center;color:#15151f;">362</div>
<div class="t " style="left:776px;top:783.13px;font-size:11.8px;line-height:14.16px;transform:scaleX(1.08);transform-origin:0 0;width:185.19px;text-align:center;color:#15151f;">(98,1)</div>
<div class="t " style="left:927.0px;top:651.50px;font-size:11.3px;line-height:13.56px;transform:scaleX(1.1);transform-origin:0 0;width:36.73px;text-align:justify;text-align-last:justify;letter-spacing:0.243px;color:#15151f;font-weight:bold;">&lt;0,000</div>
<div class="t " style="left:847px;top:665.80px;font-size:11.3px;line-height:13.56px;transform:scaleX(1.08);transform-origin:0 0;width:185.19px;text-align:center;color:#15151f;">1</div>
<div class="t " style="left:927.0px;top:743.50px;font-size:11.3px;line-height:13.56px;transform:scaleX(1.1);transform-origin:0 0;width:36.73px;text-align:justify;text-align-last:justify;letter-spacing:0.243px;color:#15151f;font-weight:bold;">&lt;0,000</div>
<div class="t " style="left:847px;top:757.80px;font-size:11.3px;line-height:13.56px;transform:scaleX(1.08);transform-origin:0 0;width:185.19px;text-align:center;color:#15151f;">1</div>
<div class="r" style="left:523.2px;top:664.3px;width:398.29999999999995px;height:1px;background:#9c9c9c;"></div>
<div class="r" style="left:523.2px;top:708.7px;width:450.19999999999993px;height:1px;background:#9c9c9c;"></div>
<div class="r" style="left:523.2px;top:759.5px;width:398.29999999999995px;height:1px;background:#9c9c9c;"></div>
<div class="r" style="left:523.2px;top:804.9px;width:450.19999999999993px;height:1px;background:#9c9c9c;"></div>
<div class="r" style="left:523.2px;top:618.2px;width:450.19999999999993px;height:1px;background:#9c9c9c;"></div>
<div class="r" style="left:523.2px;top:556px;width:450.19999999999993px;height:1.5px;background:#c3ccdb;"></div>
<div class="r" style="left:689.9px;top:618.5px;width:1px;height:186.89999999999998px;background:#9c9c9c;"></div>
<div class="r" style="left:689.8px;top:557.5px;width:1.2px;height:61px;background:#aab6cc;"></div>
<div class="r" style="left:735.5px;top:618.5px;width:1px;height:186.89999999999998px;background:#9c9c9c;"></div>
<div class="r" style="left:735.4px;top:557.5px;width:1.2px;height:61px;background:#aab6cc;"></div>
<div class="r" style="left:830.5px;top:618.5px;width:1px;height:186.89999999999998px;background:#9c9c9c;"></div>
<div class="r" style="left:830.4px;top:557.5px;width:1.2px;height:61px;background:#aab6cc;"></div>
<div class="r" style="left:921.0px;top:618.5px;width:1px;height:186.89999999999998px;background:#9c9c9c;"></div>
<div class="r" style="left:920.9px;top:557.5px;width:1.2px;height:61px;background:#aab6cc;"></div>
<div class="r" style="left:523.2px;top:514.5px;width:1px;height:290.9px;background:#9c9c9c;"></div>
<div class="r" style="left:972.4px;top:514.5px;width:1px;height:290.9px;background:#9c9c9c;"></div>
<div class="r" style="left:523.4px;top:819.5px;width:449.9px;height:38.5px;background:#0b2658;"></div>
<div class="t " style="left:575px;top:822.70px;font-size:13px;line-height:15.6px;transform:scaleX(1.0729);transform-origin:0 0;width:323.33px;text-align:justify;text-align-last:justify;letter-spacing:-0.005px;color:#fff;font-weight:bold;font-style:italic;-webkit-text-stroke:0.25px #fff;">Factores asociados con apego materno fetal escaso</div>
<div class="t " style="left:606.5px;top:840.30px;font-size:13px;line-height:15.6px;transform:scaleX(1.052);transform-origin:0 0;width:271.29px;text-align:justify;text-align-last:justify;letter-spacing:-0.005px;color:#fff;font-weight:bold;font-style:italic;-webkit-text-stroke:0.25px #fff;">Regresión logística ajustada*  OR [IC95%] p</div>
<div class="r" style="left:523.4px;top:858px;width:260.4px;height:135.39999999999998px;background:#d9f4fb;"></div>
<div class="t " style="left:527px;top:867.44px;font-size:12px;line-height:14.4px;transform:scaleX(1.0518);transform-origin:0 0;width:230.46px;text-align:justify;text-align-last:justify;letter-spacing:-0.005px;color:#15151f;font-weight:bold;">Inasistencia a consulta preconcepcional</div>
<div class="t " style="left:527px;top:895.14px;font-size:12px;line-height:14.4px;transform:scaleX(1.0519);transform-origin:0 0;width:192.41px;text-align:justify;text-align-last:justify;letter-spacing:-0.005px;color:#15151f;font-weight:bold;">Salud mental materno positiva no</div>
<div class="t " style="left:527px;top:909.94px;font-size:12px;line-height:14.4px;transform:scaleX(1.0711);transform-origin:0 0;width:61.06px;text-align:justify;text-align-last:justify;letter-spacing:-0.005px;color:#15151f;font-weight:bold;">floreciente</div>
<div class="t " style="left:527px;top:936.94px;font-size:12px;line-height:14.4px;transform:scaleX(1.0344);transform-origin:0 0;width:125.1px;text-align:justify;text-align-last:justify;letter-spacing:-0.005px;color:#15151f;font-weight:bold;">Convivir con la pareja</div>
<div class="t " style="left:527px;top:969.44px;font-size:12px;line-height:14.4px;transform:scaleX(1.0545);transform-origin:0 0;width:146.42px;text-align:justify;text-align-last:justify;letter-spacing:-0.005px;color:#15151f;font-weight:bold;">Mayor nivel de educación</div>
<div class="t " style="left:796.0px;top:868.32px;font-size:11.5px;line-height:13.8px;transform:scaleX(1.0631);transform-origin:0 0;width:82.21px;text-align:justify;text-align-last:justify;letter-spacing:-0.005px;color:#15151f;font-weight:bold;">2,25 [1,13-4,49]</div>
<div class="t " style="left:790.5px;top:904.12px;font-size:11.5px;line-height:13.8px;transform:scaleX(1.1);transform-origin:0 0;width:89.45px;text-align:justify;text-align-last:justify;letter-spacing:0.046px;color:#15151f;font-weight:bold;">7,69 [3,00-19,69]</div>
<div class="t " style="left:794.7px;top:937.62px;font-size:11.5px;line-height:13.8px;transform:scaleX(1.0949);transform-origin:0 0;width:82.2px;text-align:justify;text-align-last:justify;letter-spacing:-0.005px;color:#15151f;font-weight:bold;">0,12 [0,06-0,23]</div>
<div class="t " style="left:793.5px;top:970.12px;font-size:11.5px;line-height:13.8px;transform:scaleX(1.1);transform-origin:0 0;width:84.0px;text-align:justify;text-align-last:justify;letter-spacing:0.108px;color:#15151f;font-weight:bold;">0,92 [0,86-0,98]</div>
<div class="t " style="left:915.3px;top:868.99px;font-size:11px;line-height:13.2px;transform:scaleX(1.1);transform-origin:0 0;width:34.91px;text-align:justify;text-align-last:justify;letter-spacing:0.094px;color:#15151f;font-weight:bold;">&lt;0.001</div>
<div class="t " style="left:915.3px;top:904.59px;font-size:11px;line-height:13.2px;transform:scaleX(1.1);transform-origin:0 0;width:34.91px;text-align:justify;text-align-last:justify;letter-spacing:0.094px;color:#15151f;font-weight:bold;">&lt;0,001</div>
<div class="t " style="left:915.3px;top:938.09px;font-size:11px;line-height:13.2px;transform:scaleX(1.1);transform-origin:0 0;width:34.91px;text-align:justify;text-align-last:justify;letter-spacing:0.094px;color:#15151f;font-weight:bold;">&lt;0,001</div>
<div class="t " style="left:915.3px;top:970.59px;font-size:11px;line-height:13.2px;transform:scaleX(1.1);transform-origin:0 0;width:34.91px;text-align:justify;text-align-last:justify;letter-spacing:0.094px;color:#15151f;font-weight:bold;">&lt;0,001</div>
<div class="t " style="left:527px;top:997.75px;font-size:10.2px;line-height:12.24px;transform:scaleX(1.0506);transform-origin:0 0;width:314.96px;text-align:justify;text-align-last:justify;letter-spacing:-0.005px;color:#15151f;font-weight:bold;font-style:italic;">*Edad, edad gestacional, años de estudio, número de embarazos</div>
<div class="t " style="left:527px;top:1010.95px;font-size:10.2px;line-height:12.24px;transform:scaleX(1.0391);transform-origin:0 0;width:114.91px;text-align:justify;text-align-last:justify;letter-spacing:-0.005px;color:#15151f;font-weight:bold;font-style:italic;">y convivencia de pareja</div>
<div class="r" style="left:523.4px;top:890.1px;width:449.9px;height:1px;background:#9c9c9c;"></div>
<div class="r" style="left:523.4px;top:926.3px;width:449.9px;height:1px;background:#9c9c9c;"></div>
<div class="r" style="left:523.4px;top:960.7px;width:449.9px;height:1px;background:#9c9c9c;"></div>
<div class="r" style="left:523.4px;top:992.9px;width:449.9px;height:1px;background:#9c9c9c;"></div>
<div class="r" style="left:523.4px;top:1026.5px;width:449.9px;height:1px;background:#9c9c9c;"></div>
<div class="r" style="left:783.3px;top:858px;width:1px;height:135.39999999999998px;background:#9c9c9c;"></div>
<div class="r" style="left:894.5px;top:858px;width:1px;height:135.39999999999998px;background:#9c9c9c;"></div>
<div class="r" style="left:523.4px;top:819.5px;width:1px;height:207.5px;background:#9c9c9c;"></div>
<div class="r" style="left:972.3px;top:819.5px;width:1px;height:207.5px;background:#9c9c9c;"></div>
<div class="r" style="left:522.5px;top:1027.6px;width:451px;height:2px;background:#24407e;"></div>
<div class="t " style="left:521.7px;top:1035.46px;font-size:16px;line-height:19.2px;transform:scaleX(1.0446);transform-origin:0 0;width:87.5px;text-align:justify;text-align-last:justify;letter-spacing:-0.005px;color:#1c2a6c;font-weight:bold;">Conclusión</div>
<div class="t " style="left:531px;top:1060.89px;font-size:11px;line-height:13.2px;transform:scaleX(1.0706);transform-origin:0 0;width:386.14px;text-align:justify;text-align-last:justify;letter-spacing:-0.005px;color:#15151f;font-weight:bold;">En las gestantes estudiadas la ausencia de consulta preconcepcional y la</div>
<div class="t " style="left:523.5px;top:1075.59px;font-size:11px;line-height:13.2px;transform:scaleX(1.0681);transform-origin:0 0;width:402.02px;text-align:justify;text-align-last:justify;letter-spacing:-0.005px;color:#15151f;font-weight:bold;">salud mental materno positiva no floreciente se asociaron dos y ocho veces,</div>
<div class="t " style="left:531px;top:1088.39px;font-size:11px;line-height:13.2px;transform:scaleX(1.0827);transform-origin:0 0;width:381.82px;text-align:justify;text-align-last:justify;letter-spacing:-0.005px;color:#15151f;font-weight:bold;">respectivamente, con mayor probabilidad de escaso apego materno fetal</div>
<div class="t " style="left:537.5px;top:1117.29px;font-size:11px;line-height:13.2px;transform:scaleX(1.0794);transform-origin:0 0;width:373.26px;text-align:justify;text-align-last:justify;letter-spacing:-0.005px;color:#15151f;font-weight:bold;">Se sugiere que la consulta preconcepcional es fundamental en la salud</div>
<div class="t " style="left:529px;top:1131.89px;font-size:11px;line-height:13.2px;transform:scaleX(1.0772);transform-origin:0 0;width:387.95px;text-align:justify;text-align-last:justify;letter-spacing:-0.005px;color:#15151f;font-weight:bold;">sexual y reproductiva, mientras que una salud mental materna no positiva</div>
<div class="t " style="left:523.5px;top:1145.39px;font-size:11px;line-height:13.2px;transform:scaleX(1.0791);transform-origin:0 0;width:397.92px;text-align:justify;text-align-last:justify;letter-spacing:-0.005px;color:#15151f;font-weight:bold;">no floreciente es situación que debe ser abordada suficientemente. Además</div>
<div class="t " style="left:530px;top:1159.19px;font-size:11px;line-height:13.2px;transform:scaleX(1.0755);transform-origin:0 0;width:388.56px;text-align:justify;text-align-last:justify;letter-spacing:-0.005px;color:#15151f;font-weight:bold;">el escaso  apego materno fetal es una condición psicosocial favorecedora</div>
<div class="t " style="left:637.5px;top:1172.89px;font-size:11px;line-height:13.2px;transform:scaleX(1.0744);transform-origin:0 0;width:187.45px;text-align:justify;text-align-last:justify;letter-spacing:-0.005px;color:#15151f;font-weight:bold;">de resultados perinatales adversos.</div>
<div class="t " style="left:737px;top:1103.98px;font-size:9px;line-height:10.8px;color:#15151f;">.</div>
<div class="t " style="left:540.8px;top:1206.84px;font-size:10px;line-height:12.0px;transform:scaleX(1.0792);transform-origin:0 0;width:73.2px;text-align:justify;text-align-last:justify;letter-spacing:-0.005px;color:#1c2a6c;font-weight:bold;">Palabras clave:</div>
<div class="t " style="left:623.7px;top:1206.84px;font-size:10px;line-height:12.0px;transform:scaleX(1.1);transform-origin:0 0;width:291.27px;text-align:justify;text-align-last:justify;letter-spacing:0.117px;color:#3a3a44;font-weight:normal;">Relaciones Materno-Fetales; Salud Mental; Gestación; Atención</div>
<div class="t " style="left:540.8px;top:1219.74px;font-size:10px;line-height:12.0px;transform:scaleX(1.1);transform-origin:0 0;width:138.27px;text-align:justify;text-align-last:justify;letter-spacing:0.127px;color:#3a3a44;font-weight:normal;">Prenatal; Impacto Psicosocial.</div>
<div class="r" style="left:28px;top:1240px;width:123px;height:21px;background:#fff;border-radius:0 0 6px 6px;"></div>
<div class="t " style="left:54px;top:1243.59px;font-size:11px;line-height:13.2px;transform:scaleX(1.1);transform-origin:0 0;width:62.18px;text-align:justify;text-align-last:justify;letter-spacing:0.104px;color:#1f3475;font-weight:bold;">Bibliografía</div>
<div class="t " style="left:41px;top:1274.62px;font-size:6px;line-height:7.2px;color:#103a6b;">1.</div>
<div class="t " style="left:52px;top:1273.67px;font-size:7px;line-height:8.4px;transform:scaleX(1.1);transform-origin:0 0;width:419.45px;text-align:justify;text-align-last:justify;letter-spacing:0.061px;color:#103a6b;font-weight:bold;">Monterrosa-Castro Á, Romero-Martínez S, Monterrosa-Blanco A. Positive maternal mental health in pregnant women and its</div>
<div class="t " style="left:52px;top:1282.17px;font-size:7px;line-height:8.4px;transform:scaleX(1.1);transform-origin:0 0;width:427.64px;text-align:justify;text-align-last:justify;letter-spacing:0.106px;color:#103a6b;font-weight:bold;">association with obstetric and psychosocial factors. BMC Public Health. 2023;23(1):1013. https://doi.org/10.1186/s12889-023-</div>
<div class="t " style="left:52px;top:1291.17px;font-size:7px;line-height:8.4px;transform:scaleX(1.1);transform-origin:0 0;width:415.82px;text-align:justify;text-align-last:justify;letter-spacing:0.101px;color:#103a6b;font-weight:bold;">15904-43. Monterrosa-Castro A, Rincón-Teller D, Barbosa-Burgos M. Apego materno-fetal y apego materno-neonatal en el</div>
<div class="t " style="left:52px;top:1298.67px;font-size:7px;line-height:8.4px;transform:scaleX(1.1);transform-origin:0 0;width:104.0px;text-align:justify;text-align-last:justify;letter-spacing:0.14px;color:#103a6b;font-weight:bold;">contexto de una maternología</div>
<div class="t " style="left:41px;top:1310.12px;font-size:6px;line-height:7.2px;color:#103a6b;">2.</div>
<div class="t " style="left:52px;top:1309.17px;font-size:7px;line-height:8.4px;transform:scaleX(1.1);transform-origin:0 0;width:425.82px;text-align:justify;text-align-last:justify;letter-spacing:0.119px;color:#103a6b;font-weight:bold;">Monterrosa-Castro A, Rincón-Teller D, Barbosa-Burgos M. Apego materno-fetal y apego materno-neonatal en el contexto de</div>
<div class="t " style="left:52px;top:1318.17px;font-size:7px;line-height:8.4px;transform:scaleX(1.0967);transform-origin:0 0;width:425.28px;text-align:justify;text-align-last:justify;letter-spacing:-0.005px;color:#103a6b;font-weight:bold;">una maternología humanizada. REVAGOG 2024;6(2):57-65. Descargado: Julio-2-2025. Disponible: 114_APEGO MATERNO EN EL</div>
<div class="t " style="left:52px;top:1326.77px;font-size:7px;line-height:8.4px;transform:scaleX(1.0962);transform-origin:0 0;width:122.61px;text-align:justify;text-align-last:justify;letter-spacing:-0.005px;color:#103a6b;font-weight:bold;">CONTEXTO DE MATERNOLOGIA.pdf</div>
<div class="r" style="left:552px;top:1254.5px;width:246.5px;height:90.5px;background:#fff;border-radius:11px;"></div>
<svg style="left:552px;top:1254px" width="247" height="92" viewBox="552 1254 247 92">
<defs>
<linearGradient id="gm" x1="0" y1="0" x2="1" y2="0.3"><stop offset="0" stop-color="#f1e7b0"/><stop offset="0.6" stop-color="#ead48a"/><stop offset="1" stop-color="#d5a24c"/></linearGradient>
<radialGradient id="gd" cx="0.42" cy="0.4" r="0.65"><stop offset="0" stop-color="#f7f1c6"/><stop offset="0.7" stop-color="#efe3a4"/><stop offset="1" stop-color="#e6d187"/></radialGradient>
<linearGradient id="gr" x1="0" y1="0" x2="1" y2="0"><stop offset="0" stop-color="#63c4a2"/><stop offset="1" stop-color="#2b9bcb"/></linearGradient>
<path id="arcb" d="M590.800 1289.100 A31.200 31.200 0 1 0 647.400 1289.100"/>
<path id="arct" d="M591.600 1302.500 a27.500 27.500 0 0 1 55 0"/>
</defs>
<circle cx="619.1" cy="1302.3" r="36.8" fill="#fff" stroke="#3b4a7c" stroke-width="1.3"/>
<path d="M602.650 1294.700 A19.700 19.700 0 1 0 612.200 1285.150" fill="none" stroke="url(#gr)" stroke-width="2.5" stroke-linecap="round"/>
<path d="M596.500 1288.500 l9 8.500 M605.500 1288 l-9 9" stroke="#63c68e" stroke-width="1.4" fill="none" stroke-linecap="round"/>
<path d="M610.500 1288 q-3 10 2.500 24 M615 1290 q-2 9 3 20 M620.500 1296.500 q-2 -3 -4.500 -5 M620.500 1296.500 q4 -1 5 -4 M617.500 1301 q4 2 3 11" stroke="#9ccfd6" stroke-width="1.300" fill="none" stroke-linecap="round"/>
<text font-size="6" font-weight="bold" fill="#92979a" letter-spacing="1.2"><textPath href="#arcb" startOffset="50%" text-anchor="middle">"SALUD DE LA MUJER"</textPath></text>
<text font-size="3.8" fill="#c4d6cf" letter-spacing="0.5"><textPath href="#arct" startOffset="50%" text-anchor="middle">GRUPO DE INVESTIGACIÓN</textPath></text>
<path d="M708 1317 L698.500 1333.500 L705 1331.500 L709.500 1341 L717.500 1321 Z" fill="#dcb362"/>
<path d="M743.500 1317 L753 1333.500 L746.500 1331.500 L742 1341 L734 1321 Z" fill="#dcb362"/>
<polygon points="757.5,1295.3 755.6,1297.9 757.0,1300.8 754.7,1303.0 755.6,1306.1 752.9,1307.9 753.3,1311.1 750.3,1312.4 750.1,1315.7 746.9,1316.4 746.2,1319.6 742.9,1319.8 741.6,1322.8 738.4,1322.4 736.6,1325.1 733.5,1324.2 731.3,1326.5 728.4,1325.1 725.8,1327.0 723.2,1325.1 720.3,1326.5 718.1,1324.2 715.0,1325.1 713.2,1322.4 709.9,1322.8 708.7,1319.8 705.4,1319.6 704.7,1316.4 701.5,1315.7 701.3,1312.4 698.3,1311.1 698.7,1307.9 696.0,1306.1 696.9,1303.0 694.6,1300.8 696.0,1297.9 694.1,1295.3 696.0,1292.7 694.6,1289.8 696.9,1287.6 696.0,1284.5 698.7,1282.7 698.3,1279.5 701.3,1278.2 701.5,1274.9 704.7,1274.2 705.4,1271.0 708.7,1270.8 709.9,1267.8 713.2,1268.2 715.0,1265.5 718.1,1266.4 720.3,1264.1 723.2,1265.5 725.8,1263.6 728.4,1265.5 731.3,1264.1 733.5,1266.4 736.6,1265.5 738.4,1268.2 741.6,1267.8 742.9,1270.8 746.2,1271.0 746.9,1274.2 750.1,1274.9 750.3,1278.2 753.3,1279.5 752.9,1282.7 755.6,1284.5 754.7,1287.6 757.0,1289.8 755.6,1292.7" fill="url(#gm)"/>
<circle cx="725.6" cy="1295.3" r="27" fill="url(#gd)"/>
<circle cx="725.4" cy="1295.3" r="21" fill="none" stroke="#cfb868" stroke-width="0.8"/>
<path d="M719.9 1306.4l-3.1 1.3M719.9 1306.4l-1.3 -3.1M715.8 1303.9l-3.4 0.2M715.8 1303.9l-0.2 -3.4M712.7 1300.2l-3.3 -0.9M712.7 1300.2l0.9 -3.3M711.1 1295.8l-2.8 -1.9M711.1 1295.8l1.9 -2.8M710.9 1291.0l-2.0 -2.7M710.9 1291.0l2.7 -2.0M712.4 1286.4l-1.1 -3.2M712.4 1286.4l3.2 -1.1M715.2 1282.6l0.1 -3.4M715.2 1282.6l3.4 0.1M730.7 1306.4l1.3 -3.1M730.7 1306.4l3.1 1.3M734.8 1303.9l0.2 -3.4M734.8 1303.9l3.4 0.2M737.9 1300.2l-0.9 -3.3M737.9 1300.2l3.3 -0.9M739.5 1295.8l-1.9 -2.8M739.5 1295.8l2.8 -1.9M739.7 1291.0l-2.7 -2.0M739.7 1291.0l2.0 -2.7M738.2 1286.4l-3.2 -1.1M738.2 1286.4l1.1 -3.2M735.4 1282.6l-3.4 0.1M735.4 1282.6l-0.1 -3.4" stroke="#7d7745" stroke-width="2" fill="none" stroke-linecap="round" opacity="0.85"/>
<path d="M720 1285.500 h10.500 v9 q0 6 -5.250 9 q-5.250 -3 -5.250 -9 z" fill="#b9ad6c" opacity="0.8"/>
<path d="M725.300 1284 v20" stroke="#6f6a45" stroke-width="1.300" opacity="0.8"/>
<ellipse cx="725.3" cy="1306" rx="5" ry="1.600" fill="#8c8a6a" opacity="0.7"/>
</svg>
<div class="t " style="left:814.5px;top:1274.31px;font-size:37.5px;line-height:45.0px;transform:scaleX(1.0);transform-origin:0 0;color:#fff;">E</div>
<div class="t " style="left:853.5px;top:1274.31px;font-size:37.5px;line-height:45.0px;transform:scaleX(1.08);transform-origin:0 0;color:#fff;">N</div>
<div class="t " style="left:898.5px;top:1274.31px;font-size:37.5px;line-height:45.0px;transform:scaleX(1.0);transform-origin:0 0;color:#fff;">S</div>
<div class="t " style="left:936.7px;top:1274.31px;font-size:37.5px;line-height:45.0px;transform:scaleX(1.0);transform-origin:0 0;color:#fff;">I</div>
<div class="r" style="left:949px;top:1279px;width:51px;height:33px;background:#08fa9c;"></div>
<div class="t " style="left:957px;top:1283.42px;font-size:11.5px;line-height:13.8px;transform:scaleX(1.2);transform-origin:0 0;color:#0a6a72;font-weight:normal;-webkit-text-stroke:0.3px #0a6a72;">20</div>
<div class="t " style="left:957px;top:1297.42px;font-size:11.5px;line-height:13.8px;transform:scaleX(1.2);transform-origin:0 0;color:#0a6a72;font-weight:normal;-webkit-text-stroke:0.3px #0a6a72;">25</div>
<div class="t " style="left:824.5px;top:1337.05px;font-size:14px;line-height:16.8px;transform:scaleX(0.9992);transform-origin:0 0;width:143.01px;text-align:justify;text-align-last:justify;letter-spacing:-0.005px;color:#fff;font-weight:bold;">www.fucsalud.edu.co</div>
</body></html>
